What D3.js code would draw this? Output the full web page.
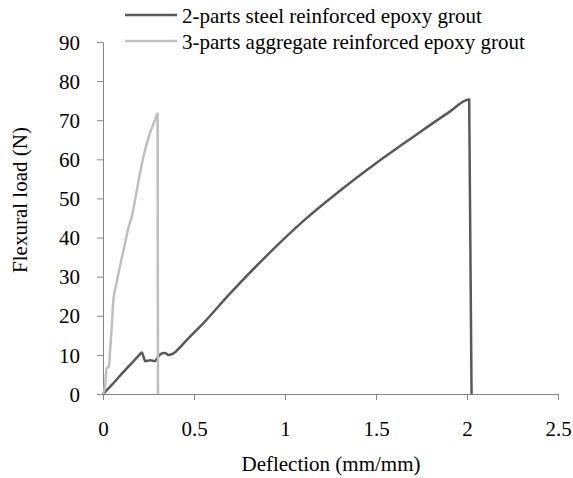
<!DOCTYPE html>
<html>
<head>
<meta charset="utf-8">
<script src="https://cdn.jsdelivr.net/npm/d3@7"></script>
<style>
  html, body { margin: 0; padding: 0; background: #fff; }
</style>
</head>
<body>
<div id="chart"></div>
<script>
/* Flexural load vs deflection — two epoxy grout mixes */

const seriesNames = [
  '2-parts steel reinforced epoxy grout',
  '3-parts aggregate reinforced epoxy grout'
];
const seriesColors = ['#595959', '#bfbfbf'];

// 2-parts steel reinforced: deflection / load
const steelDefl = [0, 0.05, 0.10, 0.15, 0.20, 0.213, 0.225, 0.232, 0.26, 0.285, 0.30, 0.32, 0.34, 0.36, 0.385,
  0.42, 0.46, 0.533, 0.7, 0.9, 1.1, 1.3, 1.5, 1.7, 1.9, 2.012, 2.025];
const steelLoad = [0, 2.4, 5.0, 7.5, 10.0, 10.6, 9.2, 8.4, 8.6, 8.4, 9.3, 10.3, 10.5, 10.0, 10.3,
  11.8, 13.8, 17.2, 25.8, 35.4, 44.2, 51.9, 59.0, 65.6, 72.0, 75.3, 0];

// 3-parts aggregate reinforced: deflection / load
const aggDefl = [0, 0.011, 0.020, 0.033, 0.038, 0.048, 0.057, 0.070, 0.093, 0.121, 0.139, 0.158, 0.176, 0.203,
  0.231, 0.258, 0.286, 0.300, 0.302];
const aggLoad = [0, 1.9, 6.6, 7.0, 10.4, 17.2, 24.0, 27.4, 32.6, 38.5, 42.4, 45.3, 49.6, 56.4,
  62.4, 66.7, 70.1, 71.7, 0];

const xTicks = [0, 0.5, 1, 1.5, 2, 2.5];
const yTicks = [0, 10, 20, 30, 40, 50, 60, 70, 80, 90];

const FONT = '"Liberation Serif", "DejaVu Serif", serif';
const W = 573, H = 478;
const svg = d3.select('#chart').append('svg').attr('width', W).attr('height', H);

const x = d3.scaleLinear().domain([0, 2.5]).range([103, 558]);
const y = d3.scaleLinear().domain([0, 90]).range([394, 42]);

const axisColor = '#868686';

// Axes
const gx = svg.append('g').attr('transform', `translate(0,${y(0)})`)
  .call(d3.axisBottom(x).tickValues(xTicks).tickFormat(d3.format('')).tickSize(6));
gx.attr('font-family', FONT).attr('font-size', 21);
gx.select('.domain').attr('stroke', axisColor);
gx.selectAll('.tick line').attr('stroke', axisColor);
gx.selectAll('.tick text').attr('y', 42).attr('dy', 0).attr('fill', '#000');

const gy = svg.append('g').attr('transform', `translate(${x(0)},0)`)
  .call(d3.axisLeft(y).tickValues(yTicks).tickSize(6).tickPadding(17));
gy.attr('font-family', FONT).attr('font-size', 21);
gy.select('.domain').attr('stroke', axisColor);
gy.selectAll('.tick line').attr('stroke', axisColor);
gy.selectAll('.tick text').attr('dy', '0.34em').attr('fill', '#000');

// Axis titles
svg.append('text').attr('x', 331).attr('y', 471).attr('text-anchor', 'middle')
  .attr('font-family', FONT).attr('font-size', 21).text('Deflection (mm/mm)');
svg.append('text').attr('transform', 'translate(27,200) rotate(-90)').attr('text-anchor', 'middle')
  .attr('font-family', FONT).attr('font-size', 21).text('Flexural load (N)');

// Lines
const line = d3.line().x(d => x(d[0])).y(d => y(d[1])).curve(d3.curveMonotoneX);
const series = [
  d3.zip(steelDefl, steelLoad),
  d3.zip(aggDefl, aggLoad)
];

svg.append('g').selectAll('path').data(series).join('path')
  .attr('fill', 'none')
  .attr('stroke', (d, i) => seriesColors[i])
  .attr('stroke-width', 2.5)
  .attr('stroke-linejoin', 'round')
  .attr('d', line);

// Legend
const leg = svg.append('g').selectAll('g').data(seriesNames).join('g')
  .attr('transform', (d, i) => `translate(125,${15 + i * 26})`);
leg.append('line').attr('x1', 0).attr('x2', 52).attr('y1', 0).attr('y2', 0)
  .attr('stroke', (d, i) => seriesColors[i]).attr('stroke-width', 2.5);
leg.append('text').attr('x', 57).attr('y', 8)
  .attr('font-family', FONT).attr('font-size', 21).attr('fill', '#000').text(d => d);
</script>
</body>
</html>
